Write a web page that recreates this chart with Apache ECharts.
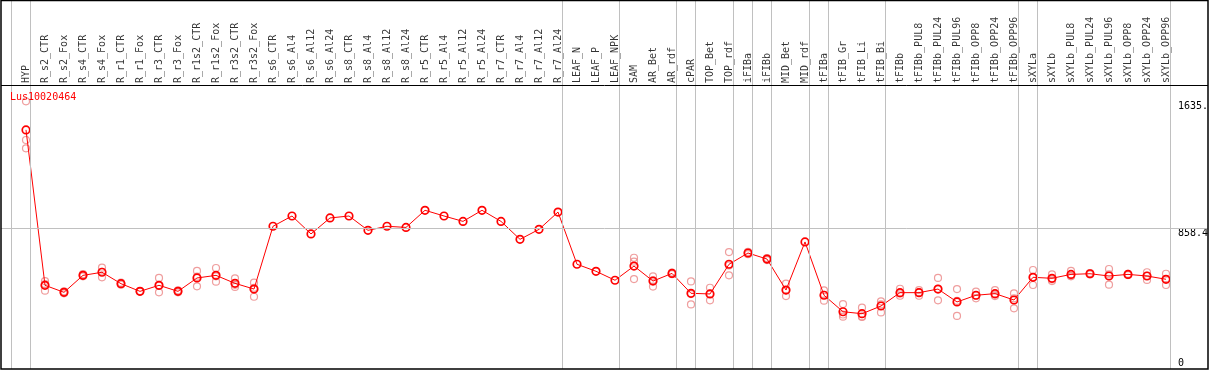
<!DOCTYPE html>
<html><head><meta charset="utf-8">
<script src="https://cdn.jsdelivr.net/npm/echarts@6/dist/echarts.min.js"></script>
<style>html,body{margin:0;padding:0;background:#fff}#c{width:1209px;height:370px}</style>
</head><body><div id="c"></div>
<script>
const categories = ["HYP","R_s2_CTR","R_s2_Fox","R_s4_CTR","R_s4_Fox","R_r1_CTR","R_r1_Fox","R_r3_CTR","R_r3_Fox",
 "R_r1s2_CTR","R_r1s2_Fox","R_r3s2_CTR","R_r3s2_Fox","R_s6_CTR","R_s6_Al4","R_s6_Al12","R_s6_Al24",
 "R_s8_CTR","R_s8_Al4","R_s8_Al12","R_s8_Al24","R_r5_CTR","R_r5_Al4","R_r5_Al12","R_r5_Al24",
 "R_r7_CTR","R_r7_Al4","R_r7_Al12","R_r7_Al24","LEAF_N","LEAF_P","LEAF_NPK","SAM","AR_Bet","AR_rdf",
 "cPAR","TOP_Bet","TOP_rdf","iFIBa","iFIBb","MID_Bet","MID_rdf","tFIBa","tFIB_Gr","tFIB_Li","tFIB_Bi",
 "tFIBb","tFIBb_PUL8","tFIBb_PUL24","tFIBb_PUL96","tFIBb_OPP8","tFIBb_OPP24","tFIBb_OPP96",
 "sXYLa","sXYLb","sXYLb_PUL8","sXYLb_PUL24","sXYLb_PUL96","sXYLb_OPP8","sXYLb_OPP24","sXYLb_OPP96"];

const meanValues = [1460,507,464,568,587,517,470,507,470,552,568,519,484,
 869,932,822,920,932,844,869,862,967,932,899,967,899,789,850,956,
 636,593,538,625,533,580,458,454,636,705,668,478,773,
 446,345,333,380,462,462,484,405,446,456,417,
 556,550,574,578,564,574,564,544];

const rep1 = [1635,533,470,575,615,523,472,552,476,595,613,550,523,
 null,null,null,null,null,null,null,null,null,null,null,null,null,null,null,null,null,null,null,
 676,562,585,531,492,711,712,674,517,null,476,392,370,409,486,478,552,484,468,478,458,
 601,574,595,582,607,578,587,578];
const rep2 = [1347,474,458,562,556,511,468,464,464,501,529,497,437,
 null,null,null,null,null,null,null,null,null,null,null,null,null,null,null,null,null,null,null,
 545,499,575,390,415,568,698,662,441,null,413,315,313,341,443,443,415,319,427,441,366,
 509,533,562,574,511,570,540,509];
const rep3 = [1398,514,464,568,590,517,470,505,470,560,562,510,492,
 null,null,null,null,null,null,null,null,null,null,null,null,null,null,null,null,null,null,null,
 652,538,580,453,455,629,705,668,476,null,449,328,316,390,457,465,485,412,443,449,427,
 558,543,565,578,574,574,565,545];

const separatorsAfter = [-1,0,28,31,34,35,37,38,39,41,42,45,52,53,60];
const yTopLabels = [858.4, 1635];
const yBottomLabels = [0];
const yMax = 1716.8;
const geneName = "Lus10020464";

const FONT = 'DejaVu Sans Mono';
const XMIN = -25/19, XMAX = 1182/19;

const repData = [];
[rep1, rep2, rep3].forEach(arr => arr.forEach((v, i) => { if (v !== null) repData.push([i, v]); }));

const chart = echarts.init(document.getElementById('c'), null, {renderer: 'canvas'});
chart.setOption({
  animation: false,
  backgroundColor: '#fff',
  title: {text: geneName, left: 10, top: 92, padding: 0,
    textStyle: {color: '#ff0000', fontSize: 10, fontWeight: 'normal', fontFamily: FONT}},
  grid: [
    {left: 1, right: 1, top: 0, height: 85, containLabel: false, outerBoundsMode: 'none'},
    {left: 1, right: 1, top: 88, bottom: 2, containLabel: false, outerBoundsMode: 'none'},
    {left: 1, right: 1, top: 0, bottom: 1, containLabel: false, outerBoundsMode: 'none'}
  ],
  xAxis: [0, 1, 2].map(g => ({type: 'value', gridIndex: g, min: XMIN, max: XMAX, show: false})),
  yAxis: [
    {type: 'value', gridIndex: 0, min: 0, max: 1, show: false},
    {type: 'value', gridIndex: 1, min: 0, max: yMax, position: 'right', offset: 0,
      axisLine: {show: false}, axisTick: {show: false}, splitLine: {show: false},
      axisLabel: {customValues: yTopLabels, margin: -30, align: 'left', verticalAlign: 'top',
        fontFamily: FONT, fontSize: 10, color: '#000',
        formatter: v => (Math.abs(v - 1635) < 0.01 ? '1635.' : String(v))}},
    {type: 'value', gridIndex: 1, min: 0, max: yMax, position: 'right', offset: 0,
      axisLine: {show: false}, axisTick: {show: false}, splitLine: {show: false},
      axisLabel: {customValues: yBottomLabels, margin: -30, align: 'left', verticalAlign: 'bottom',
        fontFamily: FONT, fontSize: 10, color: '#000', formatter: v => String(v)}},
    {type: 'value', gridIndex: 2, min: 0, max: 1, show: false}
  ],
  series: [
    {type: 'line', xAxisIndex: 2, yAxisIndex: 3, data: [[0, 0.5]], showSymbol: false,
      lineStyle: {opacity: 0}, silent: true, z: 1,
      markLine: {silent: true, symbol: ['none', 'none'], label: {show: false},
        lineStyle: {color: '#c0c0c0', width: 1, type: 'solid'},
        data: separatorsAfter.map(s => [{coord: [s + 4.5/19, 0]}, {coord: [s + 4.5/19, 1]}])}},
    {type: 'scatter', xAxisIndex: 0, yAxisIndex: 0, silent: true, symbolSize: 0, z: 3,
      data: categories.map((c, i) => [i, 0]),
      label: {show: true, formatter: p => categories[p.dataIndex], rotate: 90, position: 'top', distance: 2,
        align: 'left', verticalAlign: 'middle', fontFamily: FONT, fontSize: 10, color: '#000'}},
    {type: 'scatter', xAxisIndex: 1, yAxisIndex: 1, silent: true, z: 2, data: repData,
      symbol: 'circle', symbolSize: 7,
      itemStyle: {color: 'rgba(0,0,0,0)', borderColor: '#eb8686', borderWidth: 1.2},
      markLine: {silent: true, symbol: ['none', 'none'], label: {show: false},
        lineStyle: {color: '#c0c0c0', width: 1, type: 'solid'}, data: [{yAxis: 858.4}]}},
    {type: 'line', xAxisIndex: 1, yAxisIndex: 1, silent: true, z: 4,
      data: meanValues.map((v, i) => [i, v]),
      symbol: 'circle', symbolSize: 7.5, showSymbol: true, showAllSymbol: true,
      lineStyle: {color: '#ff0000', width: 1},
      itemStyle: {color: 'rgba(0,0,0,0)', borderColor: '#ff0000', borderWidth: 1.7}}
  ],
  graphic: [
    {type: 'rect', silent: true, z: 100, shape: {x: 1, y: 0.5, width: 1207, height: 368.5},
      style: {fill: 'none', stroke: '#000', lineWidth: 1.5}},
    {type: 'line', silent: true, z: 100, shape: {x1: 1, y1: 85.5, x2: 1208, y2: 85.5},
      style: {stroke: '#000', lineWidth: 1}}
  ]
});
</script>
</body></html>
